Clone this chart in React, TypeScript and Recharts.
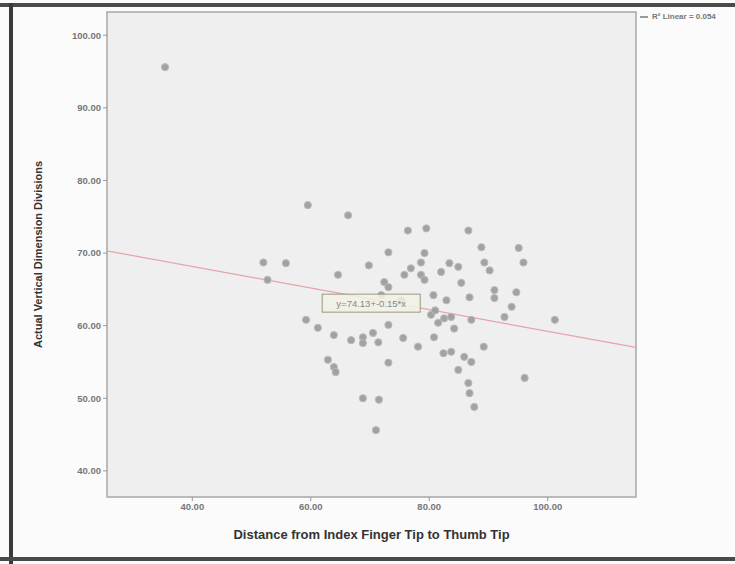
import React from 'react';
import { ScatterChart, Scatter, XAxis, YAxis, ReferenceArea, ReferenceDot } from 'recharts';

// distance from index finger tip to thumb tip
const distance = [
  35.4, 59.5, 66.3, 76.4, 79.5, 86.6, 88.8, 95.1, 95.9, 73.1, 79.2, 83.4, 84.9, 82.0, 89.3, 90.2,
  52.0, 55.8, 52.7, 64.6, 69.8, 72.4, 73.1, 75.8, 78.6, 79.2, 80.7, 86.8, 91.0, 91.0, 94.7, 93.9,
  92.7, 82.5, 83.7, 81.5, 87.1, 101.2, 59.2, 61.2, 63.9, 66.8, 68.8, 68.8, 71.4, 73.1, 75.6, 78.1,
  80.8, 82.4, 83.7, 85.9, 87.1, 89.2, 84.9, 73.1, 62.9, 63.9, 64.2, 86.6, 86.8, 87.6, 96.1, 68.8,
  71.5, 71.0, 75.3, 71.9, 82.9, 80.3, 78.6, 85.4, 76.9, 84.2, 81.0, 70.5,
];
// actual vertical dimension divisions
const vertical = [
  95.6, 76.6, 75.2, 73.1, 73.4, 73.1, 70.8, 70.7, 68.7, 70.1, 70.0, 68.6, 68.1, 67.4, 68.7, 67.6,
  68.7, 68.6, 66.3, 67.0, 68.3, 66.0, 65.3, 67.0, 67.0, 66.3, 64.2, 63.9, 64.9, 63.8, 64.6, 62.6,
  61.2, 61.0, 61.2, 60.4, 60.8, 60.8, 60.8, 59.7, 58.7, 58.0, 58.4, 57.6, 57.7, 60.1, 58.3, 57.1,
  58.4, 56.2, 56.4, 55.7, 55.0, 57.1, 53.9, 54.9, 55.3, 54.3, 53.6, 52.1, 50.7, 48.8, 52.8, 50.0,
  49.8, 45.6, 63.5, 64.2, 63.5, 61.5, 68.7, 65.9, 67.9, 59.6, 62.1, 59.0,
];

const xTicks = [40, 60, 80, 100];
const yTicks = [40, 50, 60, 70, 80, 90, 100];
const xDomain = [25.6, 114.9];
const yDomain = [36.4, 103.2];

// fit line end points
const fitX = [25.6, 114.9];
const fitY = [70.3, 57.0];
const equation = 'y=74.13+-0.15*x';
const rSquared = 'R² Linear = 0.054';

const points = distance.map((d, i) => ({ x: d, y: vertical[i] }));
const fitLine = fitX.map((x, i) => ({ x, y: fitY[i] }));

const fmt = (v: number) => v.toFixed(2);

const Dot = (props: any) => {
  const { cx, cy } = props;
  if (cx == null || cy == null) return null;
  return <circle cx={cx} cy={cy} r={3.6} fill="#999" fillOpacity={0.9} stroke="#bbb" strokeWidth={1} />;
};

const EquationBox = (props: any) => {
  const { cx, cy } = props;
  return (
    <g>
      <rect x={cx - 49} y={cy - 9} width={98} height={18} fill="#f2f1e6" fillOpacity={0.85} stroke="#9a9a7a" strokeWidth={1} />
      <text x={cx} y={cy + 3.5} textAnchor="middle" fontSize={9.5} fill="#888" fontFamily="Arial, sans-serif">
        {equation}
      </text>
    </g>
  );
};

export default function App() {
  return (
    <div style={{ position: 'absolute', left: 0, top: 0, width: 735, height: 564, background: '#fbfbfb', fontFamily: 'Arial, sans-serif' }}>
      <div style={{ position: 'absolute', left: 0, top: 3, width: 735, height: 4, background: '#4a4a4a' }} />
      <div style={{ position: 'absolute', left: 9, top: 3, width: 4, height: 561, background: '#3a3a3a' }} />
      <div style={{ position: 'absolute', left: 0, top: 557, width: 735, height: 4, background: '#4a4a4a' }} />
      <div style={{ position: 'absolute', left: 640, top: 12, fontSize: 8, color: '#777', fontWeight: 'bold' }}>
        <span style={{ display: 'inline-block', width: 8, borderTop: '2px solid #999', marginRight: 4, verticalAlign: 'middle' }} />
        {rSquared}
      </div>
      <ScatterChart width={735} height={564} margin={{ top: 12, right: 99, bottom: 8, left: 0 }} style={{ position: 'absolute', left: 0, top: 0 }}>
        <XAxis
          type="number"
          dataKey="x"
          domain={xDomain}
          ticks={xTicks}
          allowDataOverflow
          tickFormatter={fmt}
          height={59}
          axisLine={false}
          tickLine={{ stroke: '#999' }}
          tickSize={4}
          tick={{ fontSize: 9.5, fill: '#777', fontWeight: 'bold' }}
          label={{ value: 'Distance from Index Finger Tip to Thumb Tip', position: 'insideBottom', offset: 17, fontSize: 13, fontWeight: 'bold', fill: '#333' }}
        />
        <YAxis
          type="number"
          dataKey="y"
          domain={yDomain}
          ticks={yTicks}
          allowDataOverflow
          tickFormatter={fmt}
          width={107}
          axisLine={false}
          tickLine={{ stroke: '#999' }}
          tickSize={4}
          tick={{ fontSize: 9.5, fill: '#777', fontWeight: 'bold' }}
          label={{ value: 'Actual Vertical Dimension Divisions', angle: -90, position: 'insideLeft', offset: 38, fontSize: 11, fontWeight: 'bold', fill: '#333', style: { textAnchor: 'middle' } }}
        />
        <ReferenceArea x1={xDomain[0]} x2={xDomain[1]} y1={yDomain[0]} y2={yDomain[1]} fill="#efefef" fillOpacity={1} stroke="#a8a8a8" strokeWidth={1.5} />
        <Scatter data={fitLine} line={{ stroke: '#e6a3ab', strokeWidth: 1.2 }} shape={() => null} isAnimationActive={false} />
        <Scatter data={points} shape={Dot} isAnimationActive={false} />
        <ReferenceDot x={70.2} y={63.1} shape={EquationBox} />
      </ScatterChart>
    </div>
  );
}
